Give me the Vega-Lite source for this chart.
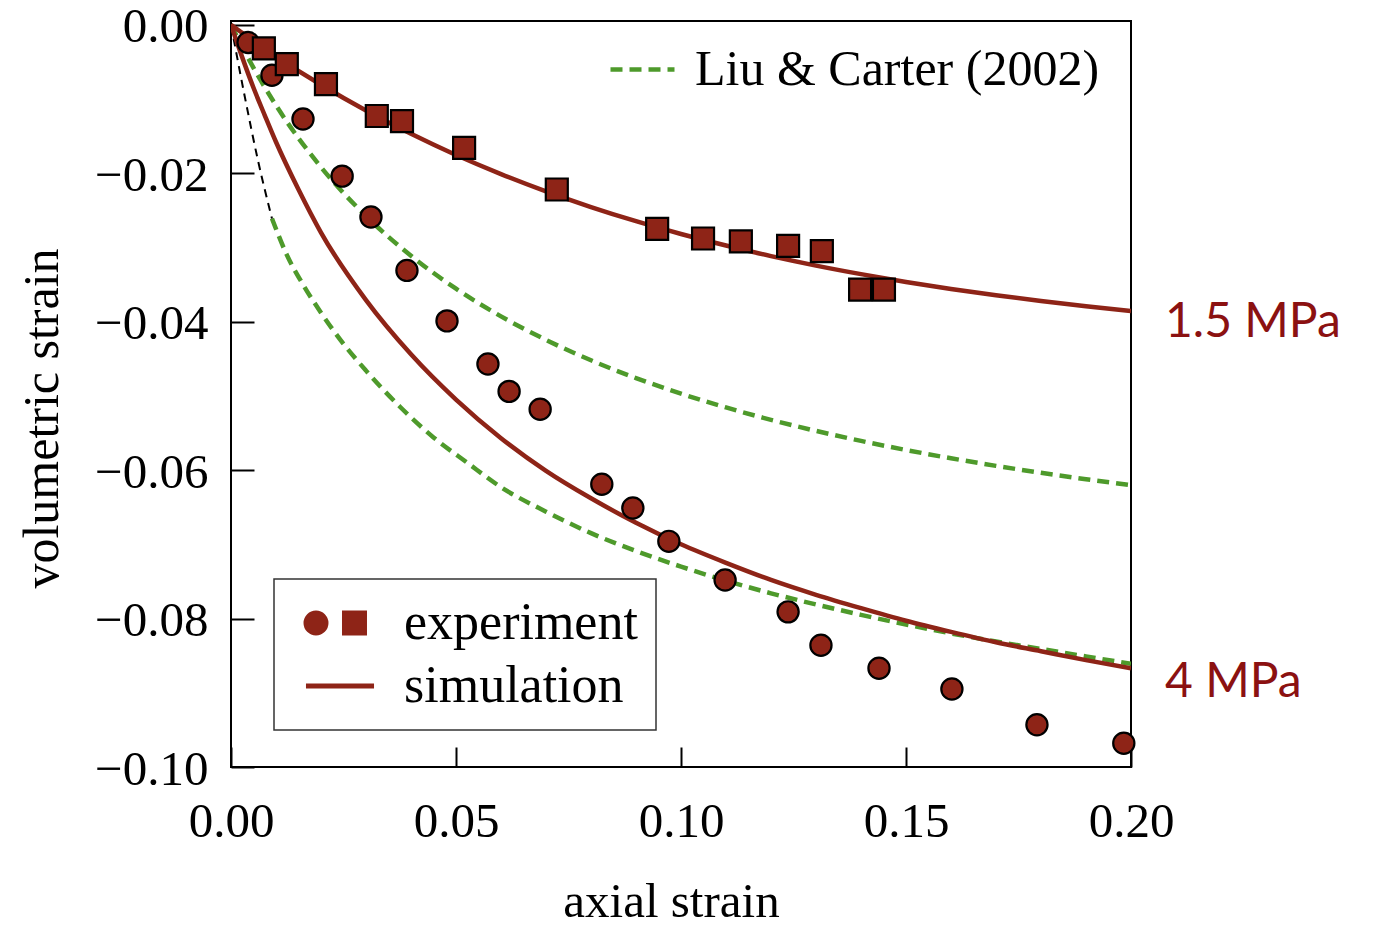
{
  "$schema": "https://vega.github.io/schema/vega-lite/v6.json",
  "width": 900,
  "height": 746,
  "autosize": {"type": "none"},
  "padding": {"left": 231, "top": 21, "right": 242, "bottom": 161},
  "background": "white",
  "config": {
    "view": {"stroke": "black", "strokeWidth": 2},
    "font": "Liberation Serif"
  },
  "datasets": {
    "exp": [
      {"x": 0.0038, "y": -0.0024, "pressure": "4 MPa"},
      {"x": 0.0091, "y": -0.0068, "pressure": "4 MPa"},
      {"x": 0.0160, "y": -0.0127, "pressure": "4 MPa"},
      {"x": 0.0247, "y": -0.0204, "pressure": "4 MPa"},
      {"x": 0.0311, "y": -0.0259, "pressure": "4 MPa"},
      {"x": 0.0391, "y": -0.0331, "pressure": "4 MPa"},
      {"x": 0.0480, "y": -0.0399, "pressure": "4 MPa"},
      {"x": 0.0571, "y": -0.0457, "pressure": "4 MPa"},
      {"x": 0.0618, "y": -0.0494, "pressure": "4 MPa"},
      {"x": 0.0687, "y": -0.0518, "pressure": "4 MPa"},
      {"x": 0.0824, "y": -0.0619, "pressure": "4 MPa"},
      {"x": 0.0893, "y": -0.0651, "pressure": "4 MPa"},
      {"x": 0.0973, "y": -0.0696, "pressure": "4 MPa"},
      {"x": 0.1098, "y": -0.0748, "pressure": "4 MPa"},
      {"x": 0.1238, "y": -0.0791, "pressure": "4 MPa"},
      {"x": 0.1311, "y": -0.0836, "pressure": "4 MPa"},
      {"x": 0.1440, "y": -0.0867, "pressure": "4 MPa"},
      {"x": 0.1602, "y": -0.0895, "pressure": "4 MPa"},
      {"x": 0.1791, "y": -0.0943, "pressure": "4 MPa"},
      {"x": 0.1984, "y": -0.0968, "pressure": "4 MPa"},
      {"x": 0.0073, "y": -0.0032, "pressure": "1.5 MPa"},
      {"x": 0.0124, "y": -0.0053, "pressure": "1.5 MPa"},
      {"x": 0.0211, "y": -0.0080, "pressure": "1.5 MPa"},
      {"x": 0.0324, "y": -0.0123, "pressure": "1.5 MPa"},
      {"x": 0.0380, "y": -0.0130, "pressure": "1.5 MPa"},
      {"x": 0.0518, "y": -0.0166, "pressure": "1.5 MPa"},
      {"x": 0.0724, "y": -0.0222, "pressure": "1.5 MPa"},
      {"x": 0.0947, "y": -0.0275, "pressure": "1.5 MPa"},
      {"x": 0.1049, "y": -0.0288, "pressure": "1.5 MPa"},
      {"x": 0.1133, "y": -0.0292, "pressure": "1.5 MPa"},
      {"x": 0.1238, "y": -0.0298, "pressure": "1.5 MPa"},
      {"x": 0.1313, "y": -0.0305, "pressure": "1.5 MPa"},
      {"x": 0.1398, "y": -0.0357, "pressure": "1.5 MPa"},
      {"x": 0.1451, "y": -0.0357, "pressure": "1.5 MPa"}
    ],
    "sim": [
      {"x": 0, "y": 0, "pressure": "1.5 MPa", "kind": "simulation"},
      {"x": 0.005, "y": -0.00218, "pressure": "1.5 MPa", "kind": "simulation"},
      {"x": 0.01, "y": -0.00425, "pressure": "1.5 MPa", "kind": "simulation"},
      {"x": 0.02, "y": -0.00809, "pressure": "1.5 MPa", "kind": "simulation"},
      {"x": 0.03, "y": -0.01156, "pressure": "1.5 MPa", "kind": "simulation"},
      {"x": 0.04, "y": -0.0147, "pressure": "1.5 MPa", "kind": "simulation"},
      {"x": 0.05, "y": -0.01755, "pressure": "1.5 MPa", "kind": "simulation"},
      {"x": 0.06, "y": -0.02012, "pressure": "1.5 MPa", "kind": "simulation"},
      {"x": 0.07, "y": -0.02245, "pressure": "1.5 MPa", "kind": "simulation"},
      {"x": 0.08, "y": -0.02456, "pressure": "1.5 MPa", "kind": "simulation"},
      {"x": 0.09, "y": -0.02647, "pressure": "1.5 MPa", "kind": "simulation"},
      {"x": 0.10, "y": -0.02819, "pressure": "1.5 MPa", "kind": "simulation"},
      {"x": 0.11, "y": -0.02975, "pressure": "1.5 MPa", "kind": "simulation"},
      {"x": 0.12, "y": -0.03117, "pressure": "1.5 MPa", "kind": "simulation"},
      {"x": 0.13, "y": -0.03245, "pressure": "1.5 MPa", "kind": "simulation"},
      {"x": 0.14, "y": -0.0336, "pressure": "1.5 MPa", "kind": "simulation"},
      {"x": 0.15, "y": -0.03465, "pressure": "1.5 MPa", "kind": "simulation"},
      {"x": 0.16, "y": -0.0356, "pressure": "1.5 MPa", "kind": "simulation"},
      {"x": 0.17, "y": -0.03645, "pressure": "1.5 MPa", "kind": "simulation"},
      {"x": 0.18, "y": -0.03723, "pressure": "1.5 MPa", "kind": "simulation"},
      {"x": 0.19, "y": -0.03793, "pressure": "1.5 MPa", "kind": "simulation"},
      {"x": 0.20, "y": -0.03856, "pressure": "1.5 MPa", "kind": "simulation"},
      {"x": 0, "y": 0, "pressure": "4 MPa", "kind": "simulation"},
      {"x": 0.0025, "y": -0.0044, "pressure": "4 MPa", "kind": "simulation"},
      {"x": 0.005, "y": -0.0085, "pressure": "4 MPa", "kind": "simulation"},
      {"x": 0.0075, "y": -0.0122, "pressure": "4 MPa", "kind": "simulation"},
      {"x": 0.01, "y": -0.0158, "pressure": "4 MPa", "kind": "simulation"},
      {"x": 0.015, "y": -0.0222, "pressure": "4 MPa", "kind": "simulation"},
      {"x": 0.02, "y": -0.028, "pressure": "4 MPa", "kind": "simulation"},
      {"x": 0.03, "y": -0.0371, "pressure": "4 MPa", "kind": "simulation"},
      {"x": 0.04, "y": -0.0444, "pressure": "4 MPa", "kind": "simulation"},
      {"x": 0.05, "y": -0.0505, "pressure": "4 MPa", "kind": "simulation"},
      {"x": 0.06, "y": -0.0557, "pressure": "4 MPa", "kind": "simulation"},
      {"x": 0.07, "y": -0.0601, "pressure": "4 MPa", "kind": "simulation"},
      {"x": 0.08, "y": -0.0638, "pressure": "4 MPa", "kind": "simulation"},
      {"x": 0.09, "y": -0.0671, "pressure": "4 MPa", "kind": "simulation"},
      {"x": 0.10, "y": -0.07, "pressure": "4 MPa", "kind": "simulation"},
      {"x": 0.11, "y": -0.0725, "pressure": "4 MPa", "kind": "simulation"},
      {"x": 0.12, "y": -0.0748, "pressure": "4 MPa", "kind": "simulation"},
      {"x": 0.13, "y": -0.0768, "pressure": "4 MPa", "kind": "simulation"},
      {"x": 0.14, "y": -0.0786, "pressure": "4 MPa", "kind": "simulation"},
      {"x": 0.15, "y": -0.0803, "pressure": "4 MPa", "kind": "simulation"},
      {"x": 0.16, "y": -0.0818, "pressure": "4 MPa", "kind": "simulation"},
      {"x": 0.17, "y": -0.0832, "pressure": "4 MPa", "kind": "simulation"},
      {"x": 0.18, "y": -0.0844, "pressure": "4 MPa", "kind": "simulation"},
      {"x": 0.19, "y": -0.0856, "pressure": "4 MPa", "kind": "simulation"},
      {"x": 0.20, "y": -0.0867, "pressure": "4 MPa", "kind": "simulation"}
    ],
    "liu": [
      {"x": 0, "y": 0, "curve": "1.5 MPa", "model": "Liu & Carter (2002)"},
      {"x": 0.0025, "y": -0.003, "curve": "1.5 MPa", "model": "Liu & Carter (2002)"},
      {"x": 0.005, "y": -0.00581, "curve": "1.5 MPa", "model": "Liu & Carter (2002)"},
      {"x": 0.01, "y": -0.01086, "curve": "1.5 MPa", "model": "Liu & Carter (2002)"},
      {"x": 0.02, "y": -0.01919, "curve": "1.5 MPa", "model": "Liu & Carter (2002)"},
      {"x": 0.03, "y": -0.02578, "curve": "1.5 MPa", "model": "Liu & Carter (2002)"},
      {"x": 0.04, "y": -0.03113, "curve": "1.5 MPa", "model": "Liu & Carter (2002)"},
      {"x": 0.05, "y": -0.03556, "curve": "1.5 MPa", "model": "Liu & Carter (2002)"},
      {"x": 0.06, "y": -0.03929, "curve": "1.5 MPa", "model": "Liu & Carter (2002)"},
      {"x": 0.07, "y": -0.04246, "curve": "1.5 MPa", "model": "Liu & Carter (2002)"},
      {"x": 0.08, "y": -0.04521, "curve": "1.5 MPa", "model": "Liu & Carter (2002)"},
      {"x": 0.09, "y": -0.0476, "curve": "1.5 MPa", "model": "Liu & Carter (2002)"},
      {"x": 0.10, "y": -0.0497, "curve": "1.5 MPa", "model": "Liu & Carter (2002)"},
      {"x": 0.11, "y": -0.05156, "curve": "1.5 MPa", "model": "Liu & Carter (2002)"},
      {"x": 0.12, "y": -0.05323, "curve": "1.5 MPa", "model": "Liu & Carter (2002)"},
      {"x": 0.13, "y": -0.05472, "curve": "1.5 MPa", "model": "Liu & Carter (2002)"},
      {"x": 0.14, "y": -0.05607, "curve": "1.5 MPa", "model": "Liu & Carter (2002)"},
      {"x": 0.15, "y": -0.05729, "curve": "1.5 MPa", "model": "Liu & Carter (2002)"},
      {"x": 0.16, "y": -0.05841, "curve": "1.5 MPa", "model": "Liu & Carter (2002)"},
      {"x": 0.17, "y": -0.05943, "curve": "1.5 MPa", "model": "Liu & Carter (2002)"},
      {"x": 0.18, "y": -0.06037, "curve": "1.5 MPa", "model": "Liu & Carter (2002)"},
      {"x": 0.19, "y": -0.06123, "curve": "1.5 MPa", "model": "Liu & Carter (2002)"},
      {"x": 0.20, "y": -0.06203, "curve": "1.5 MPa", "model": "Liu & Carter (2002)"},
      {"x": 0.0091, "y": -0.0261, "curve": "4 MPa", "model": "Liu & Carter (2002)"},
      {"x": 0.0124, "y": -0.031, "curve": "4 MPa", "model": "Liu & Carter (2002)"},
      {"x": 0.016, "y": -0.035, "curve": "4 MPa", "model": "Liu & Carter (2002)"},
      {"x": 0.02, "y": -0.0388, "curve": "4 MPa", "model": "Liu & Carter (2002)"},
      {"x": 0.025, "y": -0.043, "curve": "4 MPa", "model": "Liu & Carter (2002)"},
      {"x": 0.03, "y": -0.0466, "curve": "4 MPa", "model": "Liu & Carter (2002)"},
      {"x": 0.0376, "y": -0.0515, "curve": "4 MPa", "model": "Liu & Carter (2002)"},
      {"x": 0.045, "y": -0.0556, "curve": "4 MPa", "model": "Liu & Carter (2002)"},
      {"x": 0.0525, "y": -0.059, "curve": "4 MPa", "model": "Liu & Carter (2002)"},
      {"x": 0.06, "y": -0.0623, "curve": "4 MPa", "model": "Liu & Carter (2002)"},
      {"x": 0.07, "y": -0.0656, "curve": "4 MPa", "model": "Liu & Carter (2002)"},
      {"x": 0.08, "y": -0.0685, "curve": "4 MPa", "model": "Liu & Carter (2002)"},
      {"x": 0.09, "y": -0.0709, "curve": "4 MPa", "model": "Liu & Carter (2002)"},
      {"x": 0.10, "y": -0.073, "curve": "4 MPa", "model": "Liu & Carter (2002)"},
      {"x": 0.11, "y": -0.0749, "curve": "4 MPa", "model": "Liu & Carter (2002)"},
      {"x": 0.12, "y": -0.0766, "curve": "4 MPa", "model": "Liu & Carter (2002)"},
      {"x": 0.13, "y": -0.0781, "curve": "4 MPa", "model": "Liu & Carter (2002)"},
      {"x": 0.14, "y": -0.0795, "curve": "4 MPa", "model": "Liu & Carter (2002)"},
      {"x": 0.15, "y": -0.0808, "curve": "4 MPa", "model": "Liu & Carter (2002)"},
      {"x": 0.16, "y": -0.082, "curve": "4 MPa", "model": "Liu & Carter (2002)"},
      {"x": 0.17, "y": -0.0831, "curve": "4 MPa", "model": "Liu & Carter (2002)"},
      {"x": 0.18, "y": -0.0841, "curve": "4 MPa", "model": "Liu & Carter (2002)"},
      {"x": 0.19, "y": -0.0851, "curve": "4 MPa", "model": "Liu & Carter (2002)"},
      {"x": 0.20, "y": -0.0861, "curve": "4 MPa", "model": "Liu & Carter (2002)"}
    ],
    "initial": [
      {"x": 0, "y": 0},
      {"x": 0.003, "y": -0.0095},
      {"x": 0.006, "y": -0.0183},
      {"x": 0.0091, "y": -0.0261}
    ],
    "labels": [
      {"x": 0.2, "y": -0.0402, "label": "1.5 MPa"},
      {"x": 0.2, "y": -0.0887, "label": "4 MPa"}
    ]
  },
  "layer": [
    {
      "data": {"name": "liu"},
      "mark": {"type": "line", "color": "#4E9A2B", "strokeWidth": 4.5, "interpolate": "monotone", "clip": true},
      "encoding": {
        "x": {
          "field": "x", "type": "quantitative",
          "scale": {"domain": [0, 0.2], "nice": false, "zero": false},
          "axis": {
            "values": [0, 0.05, 0.1, 0.15, 0.2], "format": ".2f",
            "grid": false, "domain": false,
            "tickSize": -20, "tickWidth": 2, "tickColor": "black",
            "labelPadding": 50, "labelFontSize": 49, "labelColor": "black",
            "labelFont": "Liberation Serif", "labelFlush": false,
            "title": "axial strain", "titleFont": "Liberation Serif", "titleFontSize": 49,
            "titleFontWeight": "normal", "titleColor": "black",
            "titleX": 440, "titleY": 134, "titleBaseline": "middle"
          }
        },
        "y": {
          "field": "y", "type": "quantitative",
          "scale": {"domain": [-0.1, 0.0005], "nice": false, "zero": false},
          "axis": {
            "values": [0, -0.02, -0.04, -0.06, -0.08, -0.1], "format": ".2f",
            "grid": false, "domain": false,
            "tickSize": -23, "tickWidth": 2, "tickColor": "black",
            "labelPadding": 46, "labelFontSize": 49, "labelColor": "black",
            "labelFont": "Liberation Serif", "labelFlush": false, "labelOffset": 2,
            "title": "volumetric strain", "titleFont": "Liberation Serif", "titleFontSize": 50,
            "titleFontWeight": "normal", "titleColor": "black",
            "titleX": -189, "titleY": 397, "titleBaseline": "middle", "titleAngle": -90
          }
        },
        "detail": {"field": "curve"},
        "strokeDash": {
          "field": "model", "type": "nominal",
          "scale": {"domain": ["Liu & Carter (2002)"], "range": [[12, 7]]},
          "legend": {
            "orient": "none", "legendX": 377, "legendY": 14, "title": null,
            "padding": 0, "labelFont": "Liberation Serif", "labelFontSize": 50,
            "labelColor": "black", "labelOffset": 18, "labelLimit": 600,
            "symbolType": "stroke", "symbolSize": 4096, "symbolStrokeColor": "#4E9A2B",
            "symbolStrokeWidth": 4.5, "symbolDash": [12, 5]
          }
        }
      }
    },
    {
      "data": {"name": "initial"},
      "mark": {"type": "line", "color": "black", "strokeWidth": 2, "strokeDash": [8, 6], "interpolate": "monotone"},
      "encoding": {
        "x": {"field": "x", "type": "quantitative"},
        "y": {"field": "y", "type": "quantitative"}
      }
    },
    {
      "data": {"name": "sim"},
      "mark": {"type": "line", "strokeWidth": 4.5, "interpolate": "monotone", "clip": true},
      "encoding": {
        "x": {"field": "x", "type": "quantitative"},
        "y": {"field": "y", "type": "quantitative"},
        "detail": {"field": "pressure"},
        "color": {
          "field": "kind", "type": "nominal",
          "scale": {"domain": ["experiment", "simulation"], "range": ["#8E2417", "#8E2417"]},
          "legend": {
            "orient": "none", "legendX": 43, "legendY": 558, "title": null,
            "direction": "vertical",
            "strokeColor": "#333333", "padding": 18,
            "labelFont": "Liberation Serif", "labelFontSize": 52, "labelColor": "black",
            "labelOffset": 38, "labelLimit": 600,
            "symbolSize": 3969, "symbolOffset": 22, "rowPadding": 11,
            "encode": {
              "legend": {"update": {"strokeWidth": {"value": 1.5}}},
              "symbols": {
                "update": {
                  "shape": {"signal": "datum.value === 'experiment' ? 'M-1.127,0A0.365,0.365,0,1,0,-0.397,0A0.365,0.365,0,1,0,-1.127,0ZM0.095,-0.365H0.825V0.365H0.095Z' : 'M-1.08,0H1.08'"},
                  "fill": {"signal": "datum.value === 'experiment' ? '#8E2417' : 'transparent'"},
                  "stroke": {"signal": "datum.value === 'experiment' ? 'black' : '#8E2417'"},
                  "strokeWidth": {"signal": "datum.value === 'experiment' ? 2 : 5"},
                  "opacity": {"value": 1}
                }
              }
            }
          }
        }
      }
    },
    {
      "data": {"name": "exp"},
      "transform": [{"filter": "datum.pressure === '4 MPa'"}],
      "mark": {"type": "point", "shape": "circle", "filled": true, "fill": "#8E2417", "stroke": "black", "strokeWidth": 2.2, "size": 450, "opacity": 1},
      "encoding": {
        "x": {"field": "x", "type": "quantitative"},
        "y": {"field": "y", "type": "quantitative"}
      }
    },
    {
      "data": {"name": "exp"},
      "transform": [{"filter": "datum.pressure === '1.5 MPa'"}],
      "mark": {"type": "point", "shape": "square", "filled": true, "fill": "#8E2417", "stroke": "black", "strokeWidth": 2.2, "size": 484, "opacity": 1},
      "encoding": {
        "x": {"field": "x", "type": "quantitative"},
        "y": {"field": "y", "type": "quantitative"}
      }
    },
    {
      "data": {"name": "labels"},
      "mark": {"type": "text", "align": "left", "baseline": "middle", "dx": 34, "font": "Lato", "fontSize": 48, "color": "#8B1111"},
      "encoding": {
        "x": {"field": "x", "type": "quantitative"},
        "y": {"field": "y", "type": "quantitative"},
        "text": {"field": "label"}
      }
    }
  ]
}
